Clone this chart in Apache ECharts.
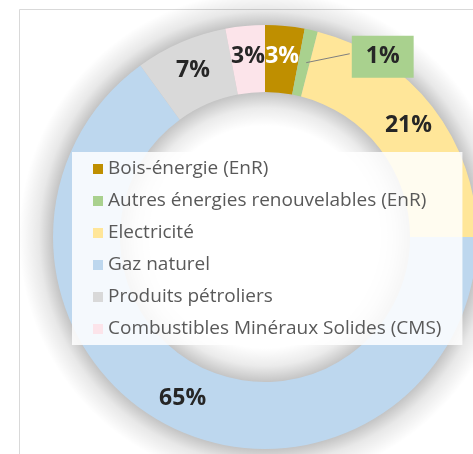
<!DOCTYPE html>
<html>
<head>
<meta charset="utf-8">
<script src="https://cdn.jsdelivr.net/npm/echarts@6/dist/echarts.min.js"></script>
<style>
html, body { margin: 0; padding: 0; background: #fff; }
#donut { width: 473px; height: 454px; }
</style>
</head>
<body>
<div id="donut"></div>
<script>
// parts of consumption (%), clockwise from 12 o'clock
var categories = ['Bois-énergie (EnR)', 'Autres énergies renouvelables (EnR)', 'Electricité', 'Gaz naturel', 'Produits pétroliers', 'Combustibles Minéraux Solides (CMS)']
var shares = [3, 1, 21, 65, 7, 3]
var colors = ['#bf8f00', '#a9d18e', '#ffe699', '#bdd7ee', '#d9d9d9', '#fce4ea']

var center = [265, 237]
var ring = [145, 212]
var glow = 34

var dom = document.getElementById('donut')
var chart = echarts.init(dom)

var labelFont = {
    fontFamily: 'Open Sans',
    fontWeight: 'bold',
    fontSize: 23,
    color: '#262626'
}

// main ring, labels inside (the 1% one is drawn by the overlay series)
var ringData = categories.map(function (name, i) {
    var item = { name: name, value: shares[i] }
    if (i === 0) item.label = { color: '#ffffff' }
    if (i === 1) item.label = { show: false }
    return item
})

// same ring, transparent, on top: carries the boxed 1% label and its leader line
var calloutData = categories.map(function (name, i) {
    var item = { name: name, value: shares[i] }
    if (i === 1) {
        item.label = {
            show: true,
            position: 'outside',
            backgroundColor: '#a9d18e',
            padding: [10, 14, 9, 14]
        }
        item.labelLine = { show: true, lineStyle: { color: '#7f7f7f', width: 1 } }
    }
    return item
})

// soft grey halo around the ring (like the excel glow effect)
var outer = ring[1] + glow
function stop(radius, alpha) {
    return { offset: radius / outer, color: 'rgba(0,0,0,' + alpha + ')' }
}

var option = {
    color: colors,
    animation: false,
    graphic: [{
        type: 'rect',
        z: -10,
        shape: { x: 19.5, y: 9.5, width: 470, height: 460 },
        style: { fill: '#ffffff', stroke: '#d9d9d9', lineWidth: 1 }
    }, {
        type: 'ring',
        z: -5,
        silent: true,
        shape: { cx: center[0], cy: center[1], r: outer, r0: ring[0] - glow },
        style: {
            fill: {
                type: 'radial', x: 0.5, y: 0.5, r: 0.5,
                colorStops: [
                    stop(ring[0] - glow, 0),
                    stop(ring[0] - 16, 0.08),
                    stop(ring[0], 0.23),
                    stop(ring[1], 0.23),
                    stop(ring[1] + 14, 0.09),
                    stop(outer, 0)
                ]
            }
        }
    }],
    legend: {
        orient: 'vertical',
        left: 72,
        top: 152,
        padding: [7, 21, 6, 21],
        itemGap: 12,
        itemWidth: 10,
        itemHeight: 10,
        icon: 'rect',
        backgroundColor: 'rgba(255,255,255,0.85)',
        selectedMode: false,
        data: categories,
        textStyle: {
            fontFamily: 'Open Sans',
            fontSize: 19,
            lineHeight: 20,
            color: '#595959'
        }
    },
    series: [{
        type: 'pie',
        radius: ring,
        center: center,
        startAngle: 90,
        avoidLabelOverlap: false,
        label: Object.assign({ show: true, position: 'inside', formatter: '{c}%' }, labelFont),
        labelLine: { show: false },
        data: ringData
    }, {
        type: 'pie',
        z: 5,
        silent: true,
        radius: ring,
        center: center,
        startAngle: 90,
        avoidLabelOverlap: false,
        legendHoverLink: false,
        itemStyle: { color: 'rgba(0,0,0,0)', borderWidth: 0 },
        label: Object.assign({ show: false, formatter: '{c}%' }, labelFont),
        labelLine: { show: false },
        labelLayout: function (params) {
            if (params.dataIndex !== 1) return {}
            var r = params.rect
            var lx = r.x + r.width + 65
            var ly = r.y + 28
            var sx = r.x + r.width * 0.55
            var sy = r.y + r.height * 0.5
            return {
                x: lx,
                y: ly,
                align: 'center',
                verticalAlign: 'middle',
                labelLinePoints: [
                    [sx, sy],
                    [(sx + lx - 33) / 2, (sy + ly - 3) / 2],
                    [lx - 33, ly - 3]
                ]
            }
        },
        data: calloutData
    }]
}
chart.setOption(option)
</script>
</body>
</html>
